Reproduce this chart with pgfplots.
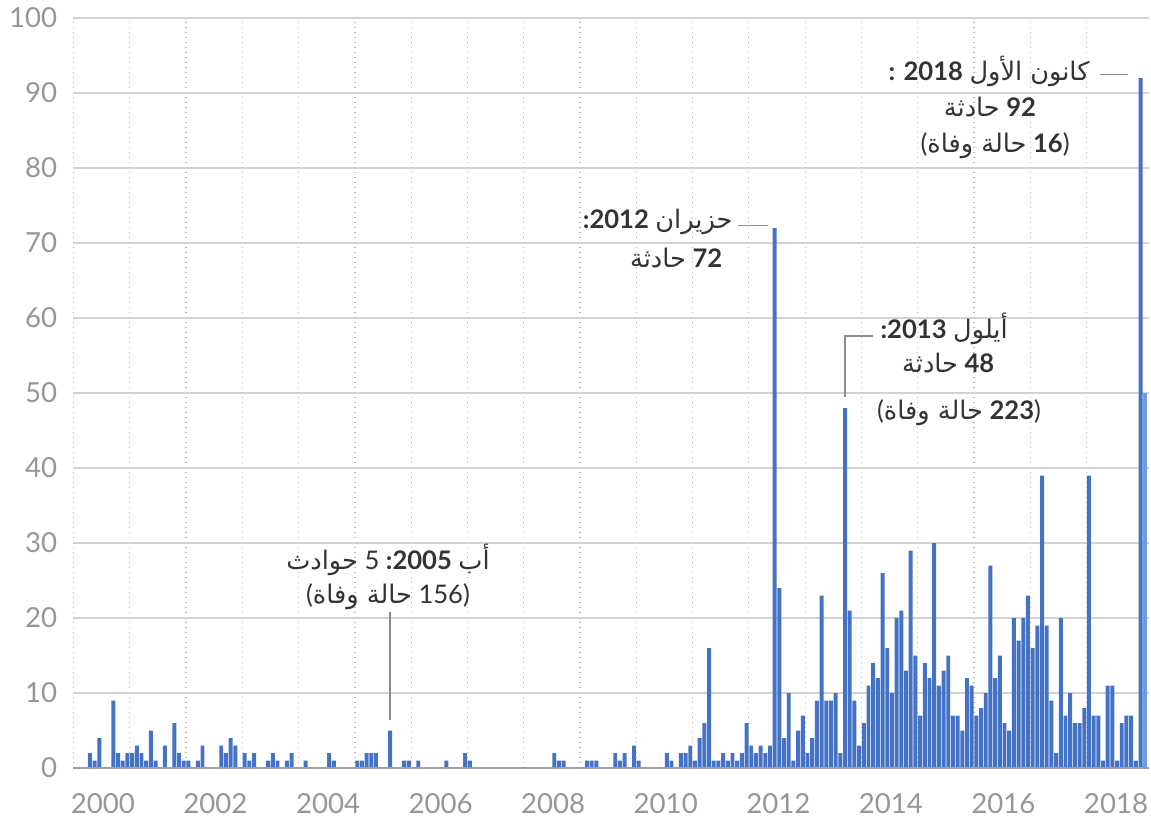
\documentclass[border=0pt]{standalone}
\usepackage{pgfplots}
\pgfplotsset{compat=1.18}
\usepackage{fontspec}
\setmainfont{Lato}
\newfontfamily\arabicfont[Script=Arabic]{DejaVu Sans}
\TeXXeTstate=1
\definecolor{barblue}{RGB}{68,114,196}
\definecolor{barlight}{RGB}{110,155,232}
\definecolor{tickgray}{RGB}{150,150,150}
\definecolor{anno}{RGB}{51,51,51}
\definecolor{leader}{RGB}{140,140,140}
\newcommand{\ar}[1]{{\arabicfont\beginR #1\endR}}
\newcommand{\annofont}{\fontsize{12.8}{14}\selectfont}
\begin{document}
\begin{tikzpicture}
\path[use as bounding box] (-36.75pt,-26.5pt) rectangle (538.75pt,384pt);
\begin{axis}[
  at={(0pt,0pt)}, anchor=south west,
  scale only axis, width=537.5pt, height=375pt,
  xmin=0, xmax=229.2, ymin=0, ymax=100,
  axis line style={draw=none},
  major tick length=0pt,
  xtick={0,12,...,216},
  xticklabels={2000,,2002,,2004,,2006,,2008,,2010,,2012,,2014,,2016,,2018},
  ytick={0,10,...,100},
  /pgf/number format/assume math mode=true,
  ticklabel style={font=\fontsize{13.8}{15}\selectfont, text=tickgray, inner sep=0pt},
  xticklabel style={anchor=north west, yshift=-12.5pt, xshift=-1.5pt},
  yticklabel style={anchor=east, xshift=-8pt},
  xmajorgrids, ymajorgrids,
  x grid style={gray!55, line width=0.6pt, dash pattern=on 0.7pt off 1.8pt},
  y grid style={gray!35, line width=0.6pt},
  clip=false,
]
\addplot[ybar, bar shift=0pt, bar width=0.84, fill=barblue, draw=none] coordinates {
(0.5,0)(1.5,0)(2.5,0)(3.5,2)(4.5,1)(5.5,4)(6.5,0)(7.5,0)(8.5,9)(9.5,2)(10.5,1)(11.5,2)
(12.5,2)(13.5,3)(14.5,2)(15.5,1)(16.5,5)(17.5,1)(18.5,0)(19.5,3)(20.5,0)(21.5,6)(22.5,2)(23.5,1)
(24.5,1)(25.5,0)(26.5,1)(27.5,3)(28.5,0)(29.5,0)(30.5,0)(31.5,3)(32.5,2)(33.5,4)(34.5,3)(35.5,0)
(36.5,2)(37.5,1)(38.5,2)(39.5,0)(40.5,0)(41.5,1)(42.5,2)(43.5,1)(44.5,0)(45.5,1)(46.5,2)(47.5,0)
(48.5,0)(49.5,1)(50.5,0)(51.5,0)(52.5,0)(53.5,0)(54.5,2)(55.5,1)(56.5,0)(57.5,0)(58.5,0)(59.5,0)
(60.5,1)(61.5,1)(62.5,2)(63.5,2)(64.5,2)(65.5,0)(66.5,0)(67.5,5)(68.5,0)(69.5,0)(70.5,1)(71.5,1)
(72.5,0)(73.5,1)(74.5,0)(75.5,0)(76.5,0)(77.5,0)(78.5,0)(79.5,1)(80.5,0)(81.5,0)(82.5,0)(83.5,2)
(84.5,1)(85.5,0)(86.5,0)(87.5,0)(88.5,0)(89.5,0)(90.5,0)(91.5,0)(92.5,0)(93.5,0)(94.5,0)(95.5,0)
(96.5,0)(97.5,0)(98.5,0)(99.5,0)(100.5,0)(101.5,0)(102.5,2)(103.5,1)(104.5,1)(105.5,0)(106.5,0)(107.5,0)
(108.5,0)(109.5,1)(110.5,1)(111.5,1)(112.5,0)(113.5,0)(114.5,0)(115.5,2)(116.5,1)(117.5,2)(118.5,0)(119.5,3)
(120.5,1)(121.5,0)(122.5,0)(123.5,0)(124.5,0)(125.5,0)(126.5,2)(127.5,1)(128.5,0)(129.5,2)(130.5,2)(131.5,3)
(132.5,1)(133.5,4)(134.5,6)(135.5,16)(136.5,1)(137.5,1)(138.5,2)(139.5,1)(140.5,2)(141.5,1)(142.5,2)(143.5,6)
(144.5,3)(145.5,2)(146.5,3)(147.5,2)(148.5,3)(149.5,72)(150.5,24)(151.5,4)(152.5,10)(153.5,1)(154.5,5)(155.5,7)
(156.5,2)(157.5,4)(158.5,9)(159.5,23)(160.5,9)(161.5,9)(162.5,10)(163.5,2)(164.5,48)(165.5,21)(166.5,9)(167.5,3)
(168.5,6)(169.5,11)(170.5,14)(171.5,12)(172.5,26)(173.5,16)(174.5,10)(175.5,20)(176.5,21)(177.5,13)(178.5,29)(179.5,15)
(180.5,7)(181.5,14)(182.5,12)(183.5,30)(184.5,11)(185.5,13)(186.5,15)(187.5,7)(188.5,7)(189.5,5)(190.5,12)(191.5,11)
(192.5,7)(193.5,8)(194.5,10)(195.5,27)(196.5,12)(197.5,15)(198.5,6)(199.5,5)(200.5,20)(201.5,17)(202.5,20)(203.5,23)
(204.5,16)(205.5,19)(206.5,39)(207.5,19)(208.5,9)(209.5,2)(210.5,20)(211.5,7)(212.5,10)(213.5,6)(214.5,6)(215.5,8)
(216.5,39)(217.5,7)(218.5,7)(219.5,1)(220.5,11)(221.5,11)(222.5,1)(223.5,6)(224.5,7)(225.5,7)(226.5,1)(227.5,92)
};
\addplot[ybar, bar shift=0pt, bar width=0.84, fill=barlight, draw=none] coordinates {(228.5,50)};
\draw[gray!75, line width=0.8pt] (axis cs:0,0) -- (axis cs:229.2,0);
% annotation Dec 2018
\draw[leader, line width=0.6pt] (axis cs:218.9,92.5) -- (axis cs:224.8,92.5);
\node[anchor=base east, font=\annofont, text=anno, inner sep=0pt] at (axis cs:216.7,91.7) {\textbf{: 2018} \ar{كانون الأول}};
\node[anchor=base, font=\annofont, text=anno, inner sep=0pt] at (axis cs:195.4,86.9) {\ar{حادثة} \textbf{92}};
\node[anchor=base, font=\annofont, text=anno, inner sep=0pt] at (axis cs:196.5,82.1) {(\ar{حالة وفاة} \textbf{16})};
% annotation Jun 2012
\draw[leader, line width=0.6pt] (axis cs:141.7,72.3) -- (axis cs:148.1,72.3);
\node[anchor=base east, font=\annofont, text=anno, inner sep=0pt] at (axis cs:140.6,71.9) {\textbf{:2012} \ar{حزيران}};
\node[anchor=base, font=\annofont, text=anno, inner sep=0pt] at (axis cs:128.5,66.7) {\ar{حادثة} \textbf{72}};
% annotation Sep 2013
\draw[leader, line width=0.6pt] (axis cs:164.5,49.5) -- (axis cs:164.5,57.6) -- (axis cs:170.5,57.6);
\node[anchor=base west, font=\annofont, text=anno, inner sep=0pt] at (axis cs:172.0,57.3) {\textbf{:2013} \ar{أيلول}};
\node[anchor=base, font=\annofont, text=anno, inner sep=0pt] at (axis cs:186.5,52.8) {\ar{حادثة} \textbf{48}};
\node[anchor=base, font=\annofont, text=anno, inner sep=0pt] at (axis cs:188.8,46.5) {(\ar{حالة وفاة} \textbf{223})};
% annotation Aug 2005
\draw[leader, line width=0.6pt] (axis cs:67.5,6.4) -- (axis cs:67.5,20.8);
\node[anchor=base, font=\annofont, text=anno, inner sep=0pt] at (axis cs:67.05,26.5) {\ar{حوادث} 5 \textbf{:2005} \ar{أب}};
\node[anchor=base, font=\annofont, text=anno, inner sep=0pt] at (axis cs:67.05,21.9) {(\ar{حالة وفاة} 156)};
\end{axis}
\end{tikzpicture}
\end{document}
